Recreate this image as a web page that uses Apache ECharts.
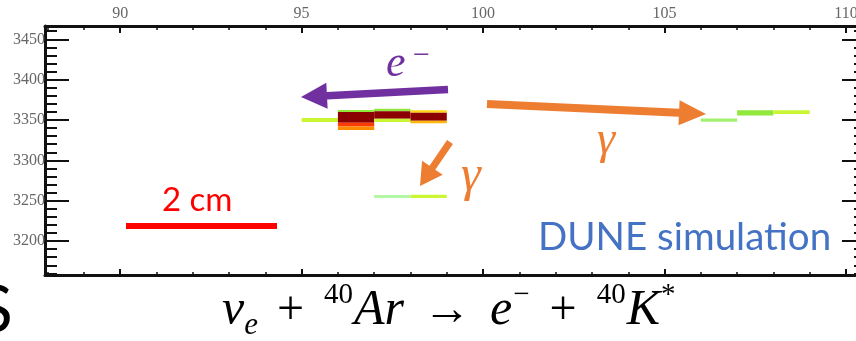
<!DOCTYPE html>
<html>
<head>
<meta charset="utf-8">
<script src="https://cdn.jsdelivr.net/npm/echarts@6/dist/echarts.min.js"></script>
<style>
  html, body { margin: 0; padding: 0; background: #fff; }
  #chart { width: 856px; height: 341px; }
</style>
</head>
<body>
<div id="chart"></div>
<script>
// Wire axis (horizontal) and drift-time axis (vertical) ranges
const wireRange = [87.93, 110.55];
const timeRange = [3158, 3466.5];
const wireTickStep = 5;
const timeTickStep = 50;

// Charge cells: first wire of each cell, its time window and the deposited charge
const hitWire     = [95, 96, 96, 96, 96, 97, 97, 97, 98, 98, 98, 97, 98, 106, 107, 108];
const hitTimeLow  = [3347.5, 3360, 3346.5, 3342, 3337.5, 3361, 3351.5, 3347.5, 3359, 3349, 3346, 3253.5, 3253.5, 3348, 3355.5, 3357.5];
const hitTimeHigh = [3352.5, 3362.5, 3360, 3346.5, 3342, 3364, 3361, 3351.5, 3362, 3359, 3349, 3257, 3257.5, 3352, 3362, 3362];
const hitCharge   = [29, 14, 100, 71, 57, 14, 100, 29, 45, 100, 50, 0, 29, 7, 14, 29];

// Charge colour scale (low -> high)
const chargePalette = ['#b2f7a6', '#8fe838', '#c8f734', '#ffe21a', '#ff8a00', '#ff3a00', '#c00000', '#8b0000'];

const hitRows = hitWire.map((w, i) => [w, w + 1, hitTimeLow[i], hitTimeHigh[i], hitCharge[i]]);

const chart = echarts.init(document.getElementById('chart'), null, { renderer: 'canvas' });

const labelFont = { fontFamily: 'Liberation Serif', fontSize: 16, color: '#666' };
const plainNumber = v => String(v);

function xAxisDef(pos, withLabels, major, minor) {
  return {
    type: 'value', position: pos, min: wireRange[0], max: wireRange[1],
    splitNumber: 5, minInterval: wireTickStep, maxInterval: wireTickStep,
    axisLine: { show: true, onZero: false, lineStyle: { color: '#111', width: 3 } },
    axisTick: { show: true, inside: true, length: major, lineStyle: { color: '#111', width: 2 } },
    minorTick: { show: true, splitNumber: 5, length: minor, lineStyle: { color: '#111', width: 1.5 } },
    axisLabel: Object.assign({ show: withLabels, margin: 4, showMinLabel: false, showMaxLabel: false, hideOverlap: false, formatter: plainNumber }, labelFont),
    splitLine: { show: false }
  };
}
function yAxisDef(pos, withLabels) {
  return {
    type: 'value', position: pos, min: timeRange[0], max: timeRange[1],
    splitNumber: 6, minInterval: timeTickStep, maxInterval: timeTickStep,
    axisLine: { show: true, onZero: false, lineStyle: { color: '#111', width: 3 } },
    axisTick: { show: true, inside: true, length: 24, lineStyle: { color: '#111', width: 2 } },
    minorTick: { show: true, splitNumber: 5, length: 12, lineStyle: { color: '#111', width: 2 } },
    axisLabel: Object.assign({ show: withLabels, margin: 0, showMinLabel: false, showMaxLabel: false, hideOverlap: false, formatter: plainNumber }, labelFont),
    splitLine: { show: false }
  };
}

// Arrow outline: shaft from (x1,y1) to the head whose tip sits at (x2,y2)
function arrowPoints(x1, y1, x2, y2, shaft, headW, headL) {
  const dx = x2 - x1, dy = y2 - y1, len = Math.hypot(dx, dy);
  const ux = dx / len, uy = dy / len, nx = -uy, ny = ux;
  const bx = x2 - ux * headL, by = y2 - uy * headL;
  const s = shaft / 2, h = headW / 2;
  return [
    [x1 + nx * s, y1 + ny * s], [bx + nx * s, by + ny * s], [bx + nx * h, by + ny * h],
    [x2, y2],
    [bx - nx * h, by - ny * h], [bx - nx * s, by - ny * s], [x1 - nx * s, y1 - ny * s]
  ];
}

const purple = '#7030a0', orange = '#ed7d31';
const mathFont = 'Liberation Serif';

chart.setOption({
  backgroundColor: '#ffffff',
  animation: false,
  grid: { left: 45, top: 26, width: 821, height: 249, outerBoundsMode: 'none', containLabel: false },
  xAxis: [xAxisDef('bottom', false, 6, 3), xAxisDef('top', true, 7, 4)],
  yAxis: [yAxisDef('left', true), yAxisDef('right', false)],
  visualMap: {
    show: false, type: 'continuous', seriesIndex: 0, dimension: 4,
    min: 0, max: 100, inRange: { color: chargePalette }
  },
  series: [{
    type: 'custom',
    xAxisIndex: 0, yAxisIndex: 0,
    data: hitRows,
    encode: { x: [0, 1], y: [2, 3] },
    renderItem(params, api) {
      const a = api.coord([api.value(0), api.value(3)]);
      const b = api.coord([api.value(1), api.value(2)]);
      return {
        type: 'rect',
        shape: { x: a[0], y: a[1], width: b[0] - a[0], height: b[1] - a[1] },
        style: { fill: api.visual('color') }
      };
    }
  }],
  graphic: [
    // electron track arrow and label
    { type: 'polygon', shape: { points: arrowPoints(448, 89.5, 301, 97, 7.5, 26, 26) }, style: { fill: purple } },
    { type: 'text', x: 386, y: 64, style: { text: 'e', font: 'italic 44px "Liberation Serif"', fill: purple, verticalAlign: 'middle' } },
    { type: 'text', x: 413, y: 56, style: { text: '−', font: '30px "Liberation Serif"', fill: purple, verticalAlign: 'middle' } },
    // photon arrows and labels
    { type: 'polygon', shape: { points: arrowPoints(487, 104, 706, 114, 8, 25, 27) }, style: { fill: orange } },
    { type: 'text', x: 597, y: 141, style: { text: 'γ', font: 'italic 46px "Liberation Serif"', fill: orange, verticalAlign: 'middle' } },
    { type: 'polygon', shape: { points: arrowPoints(450, 142, 420, 186, 7, 25, 22) }, style: { fill: orange } },
    { type: 'text', x: 461, y: 177, style: { text: 'γ', font: 'italic 50px "Liberation Serif"', fill: orange, verticalAlign: 'middle' } },
    // scale bar
    { type: 'rect', shape: { x: 126, y: 223, width: 151, height: 6 }, style: { fill: '#ff0000' } },
    { type: 'text', x: 162, y: 200, style: { text: '2 cm', font: '33px Lato', fill: '#ff0000', verticalAlign: 'middle' } },
    // watermark
    { type: 'text', x: 538, y: 238, style: { text: 'DUNE simulation', font: '38.5px Lato', fill: '#4472c4', verticalAlign: 'middle' } },
    // slide text at the left edge
    { type: 'text', x: -23, y: 311, style: { text: 'S', font: '66px Lato', fill: '#000', verticalAlign: 'middle' } },
    // reaction
    {
      type: 'text', x: 222, y: 311,
      style: {
        text: '{it|ν}{sub|e}{op|+}{sup|40}{it|Ar}{op|→}{it|e}{sup|−}{op|+}{sup|40}{it|K}{sup|*}',
        verticalAlign: 'middle',
        rich: {
          it:  { fontFamily: mathFont, fontStyle: 'italic', fontSize: 50, lineHeight: 60, fill: '#000' },
          op:  { fontFamily: mathFont, fontSize: 48, lineHeight: 60, padding: [0, 19, 0, 19], fill: '#000' },
          sup: { fontFamily: mathFont, fontSize: 29, lineHeight: 32, verticalAlign: 'top', padding: [0, 1, 0, 1], fill: '#000' },
          sub: { fontFamily: mathFont, fontStyle: 'italic', fontSize: 31, lineHeight: 33, verticalAlign: 'bottom', fill: '#000' }
        }
      }
    }
  ]
});
</script>
</body>
</html>
